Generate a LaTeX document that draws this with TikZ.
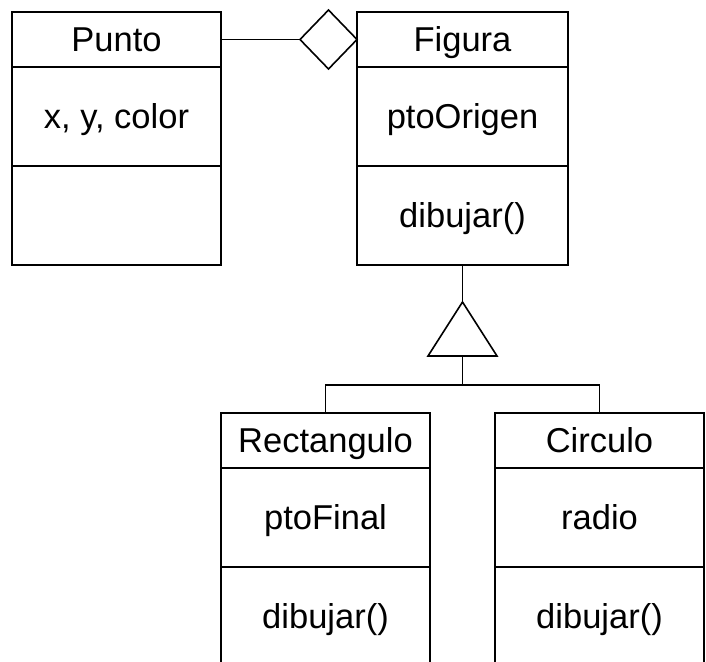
\documentclass[tikz,border=0pt]{standalone}
\usepackage{fontspec}
\setmainfont{Liberation Sans}
\usetikzlibrary{shapes.geometric,positioning}
\tikzset{
  cls/.style={draw=black, line width=1.8pt, minimum width=209pt, inner sep=0pt,
              outer sep=0pt, font=\fontsize{34.5}{38}\selectfont,
              text height=24.7pt, text depth=0pt, anchor=north},
  hdr/.style={cls, minimum height=55pt},
  sec/.style={cls, minimum height=99pt},
  link/.style={draw=black, line width=1.6pt},
}
\begin{document}
\begin{tikzpicture}[x=1pt,y=-1pt]
\useasboundingbox (0,0) rectangle (706,661);
\begin{scope}
\clip (0,0) rectangle (706,661);
% Punto
\node[hdr] (puntoH) at (116.5,12) {Punto};
\node[sec, below=0pt of puntoH] (puntoA) {x, y, color};
\node[sec, below=0pt of puntoA] (puntoM) {};
% Figura
\node[hdr, minimum width=211pt] (figH) at (462.5,12) {Figura};
\node[sec, minimum width=211pt, below=0pt of figH] (figA) {ptoOrigen};
\node[sec, minimum width=211pt, below=0pt of figA] (figM) {dibujar()};
% Rectangulo
\node[hdr] (recH) at (325.5,413) {Rectangulo};
\node[sec, below=0pt of recH] (recA) {ptoFinal};
\node[sec, below=0pt of recA] (recM) {dibujar()};
% Circulo
\node[hdr] (cirH) at (599.5,413) {Circulo};
\node[sec, below=0pt of cirH] (cirA) {radio};
\node[sec, below=0pt of cirA] (cirM) {dibujar()};
\end{scope}
% aggregation diamond
\node[draw=black, line width=1.6pt, diamond, aspect=1, inner sep=0pt, outer sep=0pt,
      minimum width=57pt, minimum height=59pt, anchor=east] (agg) at (figH.west) {};
\draw[link] (puntoH.east) -- (agg.west);
% generalization triangle
\coordinate (apex) at (462.5,302);
\coordinate (baseL) at (428,356);
\coordinate (baseR) at (497,356);
\coordinate (baseC) at (462.5,356);
\coordinate (fork) at (462.5,385);
\draw[link, line join=miter] (apex) -- (baseL) -- (baseR) -- cycle;
\draw[link] (figM.south) -- (apex);
\draw[link] (baseC) -- (fork);
\draw[link] (recH.north) |- (fork) -| (cirH.north);
\end{tikzpicture}
\end{document}
